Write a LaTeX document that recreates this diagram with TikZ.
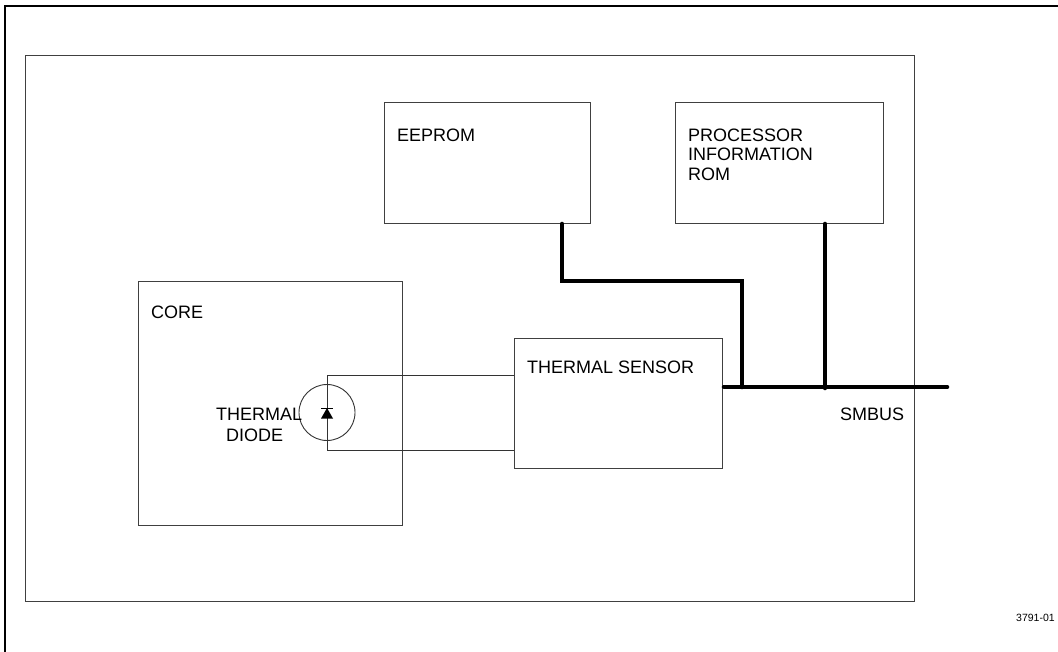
\documentclass[tikz,border=0pt]{standalone}
\usepackage{fontspec}
\setmainfont{Liberation Sans}
\begin{document}
\begin{tikzpicture}[x=1pt,y=-1pt,
  box/.style={draw=black!75,line width=0.9pt,fill=none},
  wire/.style={draw=black!80,line width=0.9pt},
  bus/.style={draw=black,line width=4.6pt,line cap=round,line join=miter},
  lbl/.style={inner sep=0pt,anchor=base west,font=\fontsize{18}{22}\selectfont,align=left}]
\useasboundingbox (0,0) rectangle (1058,652);
\fill[white] (0,0) rectangle (1058,652);
\draw[black,line width=2.4pt] (5,652) -- (5,6) -- (1058,6);
% boxes
\node[box,minimum width=889pt,minimum height=546pt,inner sep=0pt] (chip) at (469.5,328) {};
\node[box,minimum width=206pt,minimum height=121pt,inner sep=0pt] (eeprom) at (487,162.5) {};
\node[box,minimum width=208pt,minimum height=121pt,inner sep=0pt] (rom) at (779,162.5) {};
\node[box,minimum width=264pt,minimum height=244pt,inner sep=0pt] (core) at (270,403) {};
\node[box,minimum width=208pt,minimum height=130pt,inner sep=0pt] (sensor) at (618,403) {};
\node[draw=black!80,line width=0.9pt,circle,minimum size=56pt,inner sep=0pt] (diode) at (327,412.5) {};
% labels
\node[lbl] (leeprom) at (397,141.5) {EEPROM};
\node[lbl] (lrom1) at (688,141.5) {PROCESSOR};
\node[lbl] (lrom2) at (688,161) {INFORMATION};
\node[lbl] (lrom3) at (688,180.5) {ROM};
\node[lbl] (lcore) at (151,319) {CORE};
\node[lbl] (lsens) at (527,373.5) {THERMAL SENSOR};
\node[lbl] (lth) at (216,420.5) {THERMAL};
\node[lbl] (ldi) at (226,441) {DIODE};
\node[lbl] (lsm) at (840,420.5) {SMBUS};
\node[inner sep=0pt,anchor=base west,font=\fontsize{10.5}{12}\selectfont] (ref) at (1016,621) {3791-01};
% coordinates
\coordinate (dt) at (327,375);
\coordinate (db) at (327,450);
\coordinate (a) at (562,224);
\coordinate (b) at (562,281);
\coordinate (c) at (742,281);
\coordinate (d) at (742,387);
\coordinate (e) at (825,224);
\coordinate (f) at (825,388);
\coordinate (g) at (724,387);
\coordinate (h) at (947,387);
% thin wires
\draw[wire] (sensor.west |- dt) -- (dt) -- (db) -- (sensor.west |- db);
% diode symbol
\fill[black] (327,408) -- (321,418.5) -- (333,418.5) -- cycle;
\draw[black,line width=1pt] (321,408) -- (333,408);
% bus
\draw[bus] (a) -- (b) -- (c) -- (d);
\draw[bus] (e) -- (f);
\draw[bus] (g) -- (h);
\end{tikzpicture}
\end{document}
